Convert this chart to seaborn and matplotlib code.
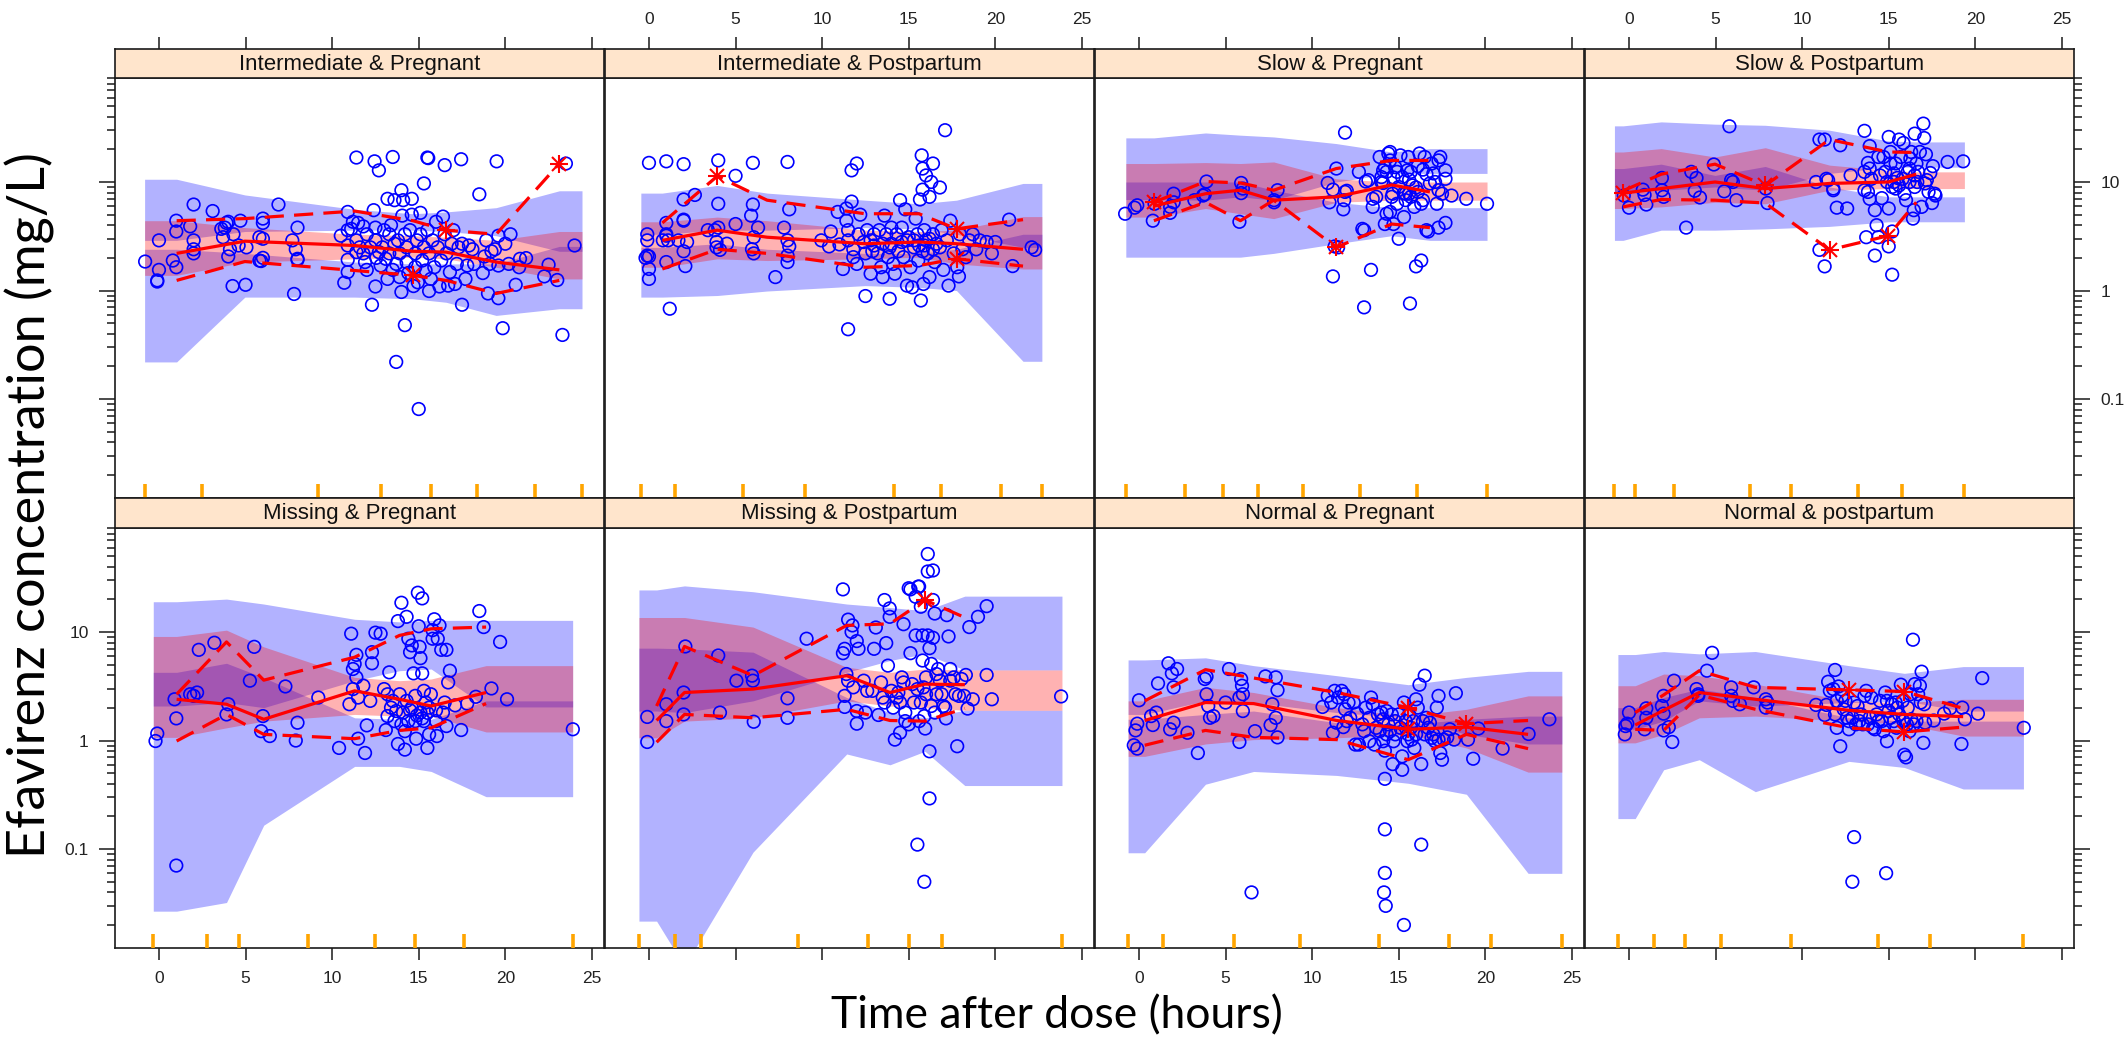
import matplotlib
matplotlib.use("Agg")
import matplotlib.pyplot as plt
import matplotlib.transforms as mtrans
from matplotlib.ticker import FixedLocator, NullFormatter, FuncFormatter
import seaborn as sns

sns.set_theme(style="white")
plt.rcParams['font.family'] = ['Liberation Sans', 'DejaVu Sans']

# ---------------- panel titles ----------------
titles = ["Intermediate & Pregnant", "Intermediate & Postpartum", "Slow & Pregnant", "Slow & Postpartum",
          "Missing & Pregnant", "Missing & Postpartum", "Normal & Pregnant", "Normal & postpartum"]
x_ticks = [0, 5, 10, 15, 20, 25]
y_ticks = [0.1, 1, 10]

# ---------------- Panel 1: Intermediate & Pregnant ----------------
edges_p1 = [-0.83, 2.48, 9.2, 12.85, 15.71, 18.36, 21.7, 24.43]
nodes_p1 = [1.02, 4.96, 11.3, 14.66, 16.58, 19.47, 23.12]
ci95_hi_p1 = [10.6, 7.6, 5.6, 5.1, 5.3, 5.8, 8.3]
ci95_lo_p1 = [2.9, 3.5, 3.6, 3.6, 3.5, 3.2, 2.3]
ci50_hi_p1 = [4.4, 3.8, 3.3, 3.2, 3.1, 2.9, 3.5]
ci50_lo_p1 = [1.38, 1.83, 1.96, 2.03, 1.96, 1.64, 1.28]
ci05_hi_p1 = [2.4, 2.2, 1.83, 1.76, 1.76, 1.76, 2.55]
ci05_lo_p1 = [0.22, 0.87, 0.87, 0.84, 0.78, 0.59, 0.68]
obs95_p1 = [4.4, 4.6, 5.4, 4.4, 3.6, 3.3, 14.8]
obs50_p1 = [2.2, 2.85, 2.6, 2.3, 2.26, 1.83, 1.55]
obs05_p1 = [1.24, 1.85, 1.53, 1.38, 1.24, 0.94, 1.24]
stars_p1 = [("p05", 3), ("p95", 4), ("p95", 6)]
pts_p1 = [(-0.8,1.85),(-0.1,1.24),(-0.1,1.21),(0.0,1.55),(0.0,2.9),(0.8,1.89),(1.0,1.64),(1.0,3.5),(1.0,4.4),
    (1.8,3.9),(2.0,6.2),(2.0,2.9),(2.0,2.4),(2.0,2.2),(3.1,5.4),(3.6,3.7),(3.7,3.1),(3.8,3.8),(3.9,4.2),(4.0,4.3),
    (4.0,2.06),(4.1,2.4),(4.3,3.3),(4.25,1.10),(4.6,2.6),(4.7,4.4),(5.0,1.13),(5.05,2.5),(5.8,3.1),(5.8,1.89),
    (5.9,1.87),(6.0,4.6),(6.0,4.2),(6.0,3.0),(6.0,2.0),(6.9,6.2),(7.7,2.9),(7.8,0.93),(7.9,2.4),(8.0,3.8),(8.0,1.96),
    (8.0,1.92),(10.5,3.2),(10.7,1.18),(10.9,5.3),(10.9,3.6),(10.9,2.6),(10.9,1.92),(10.9,1.48),(11.1,3.7),(11.2,4.3),
    (11.4,2.9),(11.4,2.26),(11.5,4.2),(11.6,2.5),(11.8,2.2),(11.8,3.9),(11.9,1.83),(12.0,3.3),(12.0,1.55),(12.2,2.5),
    (12.3,0.74),(12.4,5.5),(12.5,3.8),(12.5,2.9),(12.5,1.09),(12.55,2.0),(12.7,2.26),(12.8,1.70),(12.9,2.5),(13.0,3.6),
    (13.1,1.96),(13.2,1.28),(13.2,7.0),(13.3,3.3),(13.3,2.2),(13.4,4.0),(13.5,1.55),(13.6,6.8),(13.6,2.7),(13.7,0.22),
    (13.7,1.76),(13.8,2.9),(13.9,2.2),(13.9,1.33),(14.0,0.97),(14.0,8.4),(14.05,4.9),(14.1,6.8),(14.2,0.48),(14.2,3.3),
    (14.3,2.5),(14.3,1.83),(14.4,1.45),(14.5,3.6),(14.6,5.0),(14.6,7.0),(14.7,1.10),(14.8,2.2),(14.8,1.64),(14.9,2.9),
    (14.95,1.19),(15.0,0.081),(15.1,5.2),(15.1,3.3),(15.2,1.89),(15.3,9.7),(15.3,2.5),(15.4,1.53),(15.5,16.8),(15.55,16.6),
    (15.5,3.6),(15.6,2.2),(15.6,0.99),(15.7,1.28),(15.8,2.9),(15.9,1.64),(16.0,4.3),(16.1,2.5),(16.2,1.09),(16.3,1.89),
    (16.4,4.8),(16.5,14.3),(16.5,3.3),(16.6,2.2),(16.7,1.11),(16.8,1.48),(16.9,2.7),(17.0,3.6),(17.1,1.15),(17.2,1.76),
    (17.3,2.5),(17.45,16.2),(17.5,0.74),(17.5,2.7),(17.7,1.28),(17.8,1.70),(17.9,2.6),(18.1,2.4),(18.2,1.76),(18.5,7.7),
    (18.7,1.45),(18.8,2.06),(18.9,2.9),(19.0,0.94),(19.1,1.76),(19.2,2.3),(19.4,2.4),(19.5,15.5),(19.6,0.85),(19.6,3.2),
    (19.6,1.70),(19.85,0.45),(20.0,2.7),(20.2,1.76),(20.3,3.3),(20.6,1.13),(20.8,1.64),(20.85,1.96),(21.2,1.99),
    (22.25,1.35),(22.5,1.73),(23.0,1.25),(23.3,0.39),(23.5,14.8),(24.0,2.6),(11.4,16.8),(12.45,15.5),(12.7,12.8),(13.5,17.0)]

# ---------------- Panel 2: Intermediate & Postpartum ----------------
edges_p2 = [-0.47, 1.48, 5.42, 9.02, 14.16, 16.85, 20.33, 22.69]
nodes_p2 = [0.77, 3.94, 6.82, 12.48, 15.59, 17.76, 21.6]
ci95_hi_p2 = [7.9, 9.3, 7.9, 6.8, 6.3, 6.8, 9.7]
ci95_lo_p2 = [3.3, 3.6, 3.6, 3.8, 3.7, 3.3, 2.5]
ci50_hi_p2 = [4.3, 4.75, 4.4, 3.6, 3.5, 3.6, 4.8]
ci50_lo_p2 = [1.64, 1.96, 1.89, 1.96, 2.03, 1.76, 1.58]
ci05_hi_p2 = [2.5, 2.7, 2.4, 2.2, 2.2, 2.4, 3.3]
ci05_lo_p2 = [0.87, 0.90, 0.99, 1.11, 1.07, 1.0, 0.223]
obs95_p2 = [4.2, 11.3, 6.8, 5.1, 5.1, 3.7, 4.5]
obs50_p2 = [2.9, 3.6, 3.1, 2.7, 2.8, 2.7, 2.4]
obs05_p2 = [1.58, 2.4, 2.2, 1.64, 1.70, 1.96, 1.68]
stars_p2 = [("p95", 1), ("p95", 5), ("p05", 5)]
pts_p2 = [(0.0,15.0),(1.0,15.5),(2.0,14.6),(4.0,15.8),(6.0,15.0),(8.0,15.3),(5.0,11.4),(2.65,7.6),(2.0,6.9),(4.0,6.3),
    (6.0,6.2),(5.9,4.9),(2.0,4.5),(2.0,4.4),(1.0,4.2),(1.0,3.3),(1.0,3.2),(0.8,2.9),(1.1,2.9),(1.7,2.9),(2.2,2.8),
    (2.0,2.3),(-0.1,3.3),(-0.1,2.9),(-0.1,2.1),(0.0,2.06),(-0.2,2.0),(0.0,1.58),(0.0,1.28),(1.0,1.83),(2.1,1.68),
    (1.2,0.68),(3.4,3.6),(3.8,3.6),(4.0,3.8),(3.9,2.8),(3.9,2.5),(4.1,2.37),(4.5,2.7),(5.0,4.1),(6.05,3.1),(5.95,2.4),
    (6.05,2.2),(6.3,3.8),(7.3,1.33),(7.8,3.8),(8.0,2.9),(8.1,2.55),(8.0,2.1),(8.0,1.83),(8.1,5.6),
    (9.95,2.9),(10.4,2.55),(10.5,3.5),(10.9,5.3),(11.0,2.66),(11.2,1.58),(11.4,5.7),(11.4,4.4),(11.5,3.6),(11.5,2.9),
    (11.7,6.6),(11.7,12.8),(12.0,14.8),(11.8,2.4),(11.8,2.03),(12.0,1.76),(12.1,3.3),(12.2,5.0),(12.4,2.8),(12.5,2.2),
    (12.5,0.89),(12.6,3.6),(12.8,1.43),(12.8,2.9),(12.9,2.3),(13.0,3.3),(13.2,2.2),(13.3,3.6),(13.4,1.64),(13.5,1.33),
    (13.5,2.7),(13.6,4.9),(13.7,3.3),(13.8,2.03),(13.9,0.84),(13.9,2.5),(14.0,3.8),(14.1,1.76),(14.2,1.43),(14.3,3.3),
    (14.4,2.3),(14.5,6.8),(14.6,3.8),(14.7,2.03),(14.8,5.6),(14.9,2.9),(14.9,1.11),(15.1,1.64),(15.2,1.07),(15.3,2.5),
    (15.4,4.6),(15.5,3.3),(15.55,1.89),(15.65,6.9),(15.7,0.81),(15.75,17.6),(15.8,13.3),(15.8,8.5),(15.85,1.15),
    (15.9,2.6),(15.9,3.6),(16.0,11.5),(16.1,2.2),(16.2,7.3),(16.2,1.33),(16.3,10.0),(16.4,14.8),(16.4,3.3),(16.5,1.83),
    (16.8,8.9),(16.8,2.5),(16.9,3.6),(17.0,1.55),(17.1,30.0),(17.2,2.9),(17.3,1.11),(17.4,4.4),(17.6,2.2),(17.8,1.64),
    (17.9,1.35),(17.95,3.3),(18.1,2.4),(18.3,2.03),(18.5,2.9),(18.7,3.3),(18.9,2.4),(19.1,2.9),(19.5,2.8),(19.8,2.2),
    (20.0,2.8),(20.8,4.5),(21.0,1.68),(22.1,2.5),(22.3,2.37),(11.5,0.44),(14.6,2.8),(15.0,3.1),(15.3,2.9),(15.6,2.6),
    (16.0,2.9),(16.2,3.0),(16.6,2.7),(13.0,2.6),(14.0,2.7),(15.8,2.3),(16.4,2.4)]

# ---------------- Panel 3: Slow & Pregnant ----------------
edges_p3 = [-0.76, 2.66, 4.86, 6.88, 9.45, 12.76, 16.07, 20.1]
nodes_p3 = [0.86, 3.84, 5.86, 7.78, 11.39, 14.59, 16.8]
ci95_hi_p3 = [25.5, 28.3, 27.0, 26.0, 22.6, 18.9, 20.3]
ci95_lo_p3 = [6.9, 6.8, 7.3, 6.8, 10.0, 12.0, 12.0]
ci50_hi_p3 = [14.8, 15.1, 14.8, 15.3, 10.7, 10.0, 10.0]
ci50_lo_p3 = [4.75, 5.7, 5.1, 4.6, 6.5, 6.8, 6.8]
ci05_hi_p3 = [10.0, 10.0, 10.0, 8.4, 6.5, 5.8, 5.8]
ci05_lo_p3 = [2.03, 2.03, 2.03, 2.2, 2.7, 3.2, 2.9]
obs95_p3 = [6.5, 10.1, 9.8, 8.4, 13.3, 15.8, 15.8]
obs50_p3 = [6.0, 7.8, 8.4, 6.8, 7.3, 9.4, 8.1]
obs05_p3 = [4.4, 6.5, 4.4, 6.8, 2.5, 4.1, 3.8]
stars_p3 = [("p95", 0), ("p05", 4)]
pts_p3 = [(-0.8,5.1),(-0.25,5.8),(-0.1,6.1),(0.8,4.4),(0.9,6.3),(1.8,5.2),(1.8,5.9),(2.0,7.8),(2.0,6.5),(3.2,6.8),
    (3.7,7.5),(3.8,7.7),(3.9,10.1),(5.8,4.3),(5.9,9.8),(5.9,7.9),(6.0,8.7),(7.8,6.8),(7.8,6.5),(8.0,8.4),
    (10.9,9.8),(11.0,6.5),(11.2,8.5),(11.2,1.35),(11.3,2.55),(11.4,13.3),(11.5,2.5),(11.8,5.6),(11.9,8.1),(12.0,8.3),
    (11.85,6.8),(11.9,28.5),(12.7,12.4),(12.9,3.7),(13.0,3.6),(13.0,0.70),(13.1,10.1),(13.25,10.4),(13.4,1.55),
    (13.5,5.9),(13.5,7.0),(13.7,7.3),(13.9,17.0),(14.0,11.1),(14.1,12.8),(14.1,9.8),(14.2,4.1),(14.2,13.7),(14.3,5.1),
    (14.3,12.4),(14.4,18.3),(14.5,5.3),(14.5,18.9),(14.5,15.8),(14.6,7.3),(14.65,7.8),(14.7,4.1),(14.8,13.7),(14.9,6.3),
    (14.9,12.4),(15.0,3.0),(15.1,17.6),(15.2,11.1),(15.3,4.75),(15.3,7.9),(15.4,6.8),(15.4,7.8),(15.5,12.8),(15.55,17.0),
    (15.6,7.8),(15.65,0.76),(15.7,12.4),(15.7,7.3),(15.8,9.3),(15.9,5.9),(16.0,1.67),(16.1,14.0),(16.1,8.1),(16.2,18.3),
    (16.3,1.89),(16.3,6.3),(16.4,13.0),(16.4,6.8),(16.5,17.0),(16.6,3.6),(16.7,3.5),(16.8,9.7),(16.9,14.8),(17.0,12.0),
    (17.1,10.0),(17.2,6.3),(17.3,8.4),(17.3,15.8),(17.4,17.0),(17.5,7.8),(17.7,12.8),(17.7,4.2),(17.3,3.8),(17.7,10.7),
    (18.05,7.5),(18.9,7.0),(20.1,6.3),(14.0,10.0),(14.7,11.0),(15.0,9.0),(15.6,10.5),(16.0,8.9),(16.6,11.8)]

# ---------------- Panel 4: Slow & Postpartum ----------------
edges_p4 = [-0.84, 0.37, 2.58, 6.99, 9.37, 13.2, 15.77, 19.37]
nodes_p4 = [-0.34, 1.86, 4.97, 7.87, 11.58, 14.98, 16.59]
ci95_hi_p4 = [32.9, 35.8, 34.1, 33.3, 30.0, 23.9, 23.4]
ci95_lo_p4 = [8.1, 8.4, 9.0, 8.4, 12.0, 13.7, 13.7]
ci50_hi_p4 = [18.9, 20.3, 17.0, 20.7, 14.3, 12.8, 12.4]
ci50_lo_p4 = [5.7, 5.9, 6.5, 6.3, 8.4, 8.7, 8.7]
ci05_hi_p4 = [13.3, 14.6, 11.5, 13.9, 9.0, 7.3, 7.3]
ci05_lo_p4 = [2.9, 3.6, 3.6, 3.7, 3.9, 4.3, 4.3]
obs95_p4 = [8.3, 11.8, 14.6, 9.3, 24.6, 18.9, 18.7]
obs50_p4 = [7.9, 8.7, 10.0, 8.7, 9.7, 10.0, 11.8]
obs05_p4 = [5.9, 6.9, 6.8, 6.4, 2.37, 3.2, 6.5]
stars_p4 = [("p50", 0), ("p95", 3), ("p05", 4), ("p05", 5)]
pts_p4 = [(-0.3,7.5),(0.0,5.8),(0.8,8.5),(0.9,7.6),(1.0,6.2),(1.9,10.9),(1.9,8.4),(2.0,7.3),(3.3,3.8),(3.6,12.4),
    (3.9,10.9),(3.8,8.3),(4.1,7.2),(4.9,14.5),(5.5,8.2),(5.8,32.6),(5.9,10.4),(6.0,10.0),(6.2,6.8),(7.9,8.7),(8.0,6.4),
    (10.8,10.0),(11.0,2.37),(11.0,24.6),(11.3,24.6),(11.3,1.67),(11.4,10.7),(11.5,10.4),(11.8,8.7),(11.8,8.4),
    (12.0,5.8),(12.2,21.8),(12.6,5.7),(12.8,11.5),(13.6,29.6),(13.6,12.4),(13.6,8.4),(13.7,3.1),(13.8,8.1),(13.8,15.0),
    (13.9,13.3),(13.9,7.0),(13.9,21.4),(14.0,10.7),(14.2,5.5),(14.2,2.1),(14.3,4.0),(14.4,17.0),(14.4,3.1),(14.5,11.5),
    (14.6,7.1),(14.7,17.0),(14.8,12.4),(14.9,10.0),(15.0,26.0),(15.0,5.7),(15.0,2.55),(15.1,18.9),(15.1,14.8),(15.2,9.0),
    (15.2,1.4),(15.2,3.5),(15.3,12.0),(15.3,10.0),(15.4,8.7),(15.4,14.8),(15.5,10.9),(15.6,24.6),(15.6,9.3),(15.7,17.0),
    (15.85,22.9),(15.9,7.8),(16.0,6.8),(16.1,12.4),(16.2,10.0),(16.25,16.4),(16.3,18.9),(16.4,4.6),(16.45,5.5),
    (16.5,27.9),(16.5,11.5),(16.6,14.8),(16.65,10.0),(16.7,12.4),(16.8,18.9),(16.9,5.9),(17.0,34.5),(17.05,25.4),
    (17.1,9.7),(17.15,18.0),(17.2,10.4),(17.3,8.1),(17.4,12.1),(17.5,6.4),(17.55,14.0),(17.65,7.8),(17.7,7.5),
    (18.4,15.3),(19.3,15.5),(16.2,13.3),(15.8,10.7),(16.5,9.0)]

# ---------------- Panel 5: Missing & Pregnant ----------------
edges_p5 = [-0.33, 2.75, 4.61, 8.61, 12.45, 14.76, 17.64, 23.89]
nodes_p5 = [1.02, 3.9, 6.05, 11.3, 13.89, 15.72, 18.89]
ci95_hi_p5 = [19.0, 20.1, 18.1, 13.1, 12.4, 12.8, 12.8]
ci95_lo_p5 = [2.08, 2.24, 2.01, 3.56, 4.4, 4.56, 2.04]
ci50_hi_p5 = [9.1, 10.4, 7.3, 3.82, 3.56, 3.69, 4.9]
ci50_lo_p5 = [1.07, 1.31, 1.51, 1.74, 1.68, 1.68, 1.2]
ci05_hi_p5 = [4.25, 5.15, 3.8, 1.62, 1.57, 1.57, 2.32]
ci05_lo_p5 = [0.0268, 0.0322, 0.166, 0.578, 0.578, 0.519, 0.304]
obs95_p5 = [2.67, 8.1, 3.6, 5.86, 9.3, 10.7, 11.1]
obs50_p5 = [2.4, 2.16, 1.57, 2.87, 2.4, 2.08, 2.77]
obs05_p5 = [0.99, 1.74, 1.14, 1.04, 1.24, 1.31, 2.19]
stars_p5 = []
pts_p5 = [(-0.2,0.99),(-0.1,1.16),(0.9,2.4),(1.0,1.6),(1.0,0.0705),(1.8,2.67),(2.0,2.58),(2.2,2.77),(2.3,6.85),
    (3.2,7.96),(3.9,1.74),(4.0,2.16),(5.25,3.56),(5.5,7.3),(6.0,1.68),(5.9,1.22),(6.4,1.1),(7.3,3.15),(8.0,1.46),
    (7.9,1.0),(9.2,2.49),(10.4,0.855),(11.0,2.16),(11.1,9.65),(11.2,2.98),(11.2,4.56),(11.3,5.08),(11.4,3.82),
    (11.4,6.16),(11.5,2.49),(11.5,1.04),(11.8,3.2),(11.9,0.768),(12.0,1.38),(12.2,2.32),(12.3,6.52),(12.3,5.15),
    (12.5,9.86),(12.8,9.65),(13.0,2.98),(13.1,1.25),(13.2,2.67),(13.2,1.68),(13.3,4.25),(13.4,2.01),(13.5,2.32),
    (13.6,1.51),(13.7,1.87),(13.8,12.6),(13.8,0.93),(13.9,2.67),(14.0,1.41),(14.0,18.6),(14.1,1.81),(14.2,1.22),
    (14.2,0.825),(14.3,2.32),(14.3,13.8),(14.4,1.51),(14.4,8.67),(14.5,6.52),(14.6,7.52),(14.6,2.01),(14.7,4.16),
    (14.8,1.51),(14.8,2.58),(14.85,1.04),(14.95,23.0),(15.0,11.3),(15.05,7.3),(15.1,5.74),(15.1,1.81),(15.2,20.4),
    (15.2,4.16),(15.3,2.87),(15.3,1.51),(15.4,2.24),(15.5,0.855),(15.6,1.14),(15.6,2.01),(15.7,2.67),(15.8,10.4),
    (15.8,8.67),(15.9,13.1),(16.0,1.51),(16.05,1.1),(16.1,8.67),(16.2,11.5),(16.3,6.85),(16.4,1.81),(16.5,2.24),
    (16.6,1.36),(16.6,6.85),(16.7,3.43),(16.8,4.4),(17.1,2.11),(17.45,1.25),(17.8,2.19),(18.3,2.53),(18.5,15.6),
    (18.75,11.1),(19.2,3.02),(19.7,8.1),(20.1,2.4),(23.9,1.27),(14.5,1.9),(14.9,1.7),(15.2,1.6),(15.5,1.8),(16.0,1.9)]

# ---------------- Panel 6: Missing & Postpartum ----------------
edges_p6 = [-0.58, 1.50, 3.03, 8.58, 12.63, 15.02, 16.95, 23.85]
nodes_p6 = [0.44, 2.05, 6.01, 11.42, 13.92, 15.94, 18.24]
ci95_hi_p6 = [24.4, 26.6, 23.5, 18.1, 16.8, 15.7, 21.4]
ci95_lo_p6 = [1.87, 1.81, 2.32, 4.25, 5.46, 6.3, 4.47]
ci50_hi_p6 = [13.6, 13.6, 11.1, 4.73, 4.25, 4.56, 4.47]
ci50_lo_p6 = [1.06, 1.51, 1.62, 2.32, 2.08, 2.01, 1.9]
ci05_hi_p6 = [7.1, 7.0, 6.52, 2.49, 1.81, 1.62, 1.9]
ci05_lo_p6 = [0.0217, 0.0083, 0.0938, 0.752, 0.598, 0.796, 0.385]
obs95_p6 = [2.08, 7.36, 3.96, 11.5, 11.9, 19.7, 13.6]
obs50_p6 = [1.53, 2.77, 2.98, 3.96, 2.77, 3.31, 3.27]
obs05_p6 = [0.965, 1.74, 1.62, 1.94, 1.53, 1.51, 1.98]
stars_p6 = [("p95", 5)]
pts_p6 = [(-0.1,1.65),(-0.1,0.97),(1.0,2.16),(1.0,1.51),(2.0,2.77),(2.0,1.74),(2.1,7.36),(4.0,6.07),(4.1,1.81),
    (5.05,3.56),(5.95,3.96),(6.0,3.56),(6.05,1.49),(8.0,2.45),(8.0,1.62),(9.1,8.67),(11.2,24.7),(11.2,6.38),(11.3,7.0),
    (11.3,2.58),(11.3,2.04),(11.4,4.1),(11.5,13.0),(11.5,3.56),(11.7,10.0),(11.75,11.5),(11.8,3.09),(12.0,1.43),
    (12.0,1.87),(12.0,8.25),(12.1,7.0),(12.4,3.56),(12.5,1.81),(12.6,2.87),(12.9,2.87),(13.0,7.0),(13.1,11.0),
    (13.25,1.72),(13.4,3.43),(13.5,2.49),(13.6,2.24),(13.6,19.7),(13.7,7.9),(13.8,4.9),(13.9,16.5),(13.9,13.8),
    (14.0,2.87),(14.1,2.01),(14.2,1.02),(14.3,2.49),(14.4,2.77),(14.5,2.24),(14.5,1.18),(14.6,3.82),(14.7,3.43),
    (14.7,11.8),(14.8,1.51),(14.8,1.81),(15.0,1.41),(15.0,25.3),(15.1,6.38),(15.2,3.31),(15.3,2.24),(15.4,9.3),
    (15.4,21.1),(15.5,2.98),(15.5,0.110),(15.55,26.2),(15.6,1.51),(15.7,2.24),(15.7,17.1),(15.8,9.3),(15.8,5.46),
    (15.85,3.09),(15.9,1.68),(15.9,0.05),(15.95,1.29),(16.0,3.82),(16.0,2.67),(16.1,9.3),(16.2,7.1),(16.2,0.796),
    (16.2,0.293),(16.3,5.08),(16.3,2.08),(16.4,19.7),(16.4,8.85),(16.5,14.8),(16.5,1.81),(16.6,4.1),(16.6,2.67),
    (16.7,4.56),(16.8,3.56),(16.9,2.67),(17.0,2.08),(17.1,2.01),(17.15,1.6),(17.2,14.3),(17.3,9.1),(17.4,4.56),
    (17.4,3.56),(17.6,3.82),(17.7,2.67),(17.8,0.886),(17.9,2.58),(18.05,3.69),(18.2,2.58),(18.3,4.02),(18.4,1.97),
    (18.5,11.1),(18.7,2.4),(19.0,13.8),(19.5,17.3),(19.5,4.02),(19.8,2.4),(23.8,2.55),(16.1,52.3),(16.1,36.1),
    (16.4,36.9),(15.1,24.7),(15.6,26.2)]

# ---------------- Panel 7: Normal & Pregnant ----------------
edges_p7 = [-0.63, 1.40, 5.47, 9.27, 13.86, 17.9, 20.35, 24.42]
nodes_p7 = [0.33, 3.84, 6.62, 11.42, 15.55, 18.91, 22.47]
ci95_hi_p7 = [5.53, 5.78, 4.9, 3.96, 3.27, 3.82, 4.34]
ci95_lo_p7 = [1.74, 2.32, 2.24, 1.81, 1.62, 1.14, 0.93]
ci50_hi_p7 = [2.32, 3.09, 2.77, 2.01, 1.68, 1.94, 2.58]
ci50_lo_p7 = [0.715, 0.93, 1.02, 1.06, 1.14, 0.855, 0.512]
ci05_hi_p7 = [1.57, 1.74, 1.87, 1.46, 1.41, 1.57, 1.68]
ci05_lo_p7 = [0.0925, 0.396, 0.519, 0.477, 0.404, 0.32, 0.0598]
obs95_p7 = [2.32, 4.5, 3.77, 2.77, 2.01, 1.43, 1.53]
obs50_p7 = [1.53, 2.24, 2.19, 1.53, 1.27, 1.33, 1.14]
obs05_p7 = [0.905, 1.24, 1.07, 1.02, 0.666, 1.14, 0.843]
stars_p7 = [("p95", 4), ("p50", 4), ("p95", 5)]
pts_p7 = [(-0.3,0.905),(-0.1,0.843),(-0.2,1.24),(-0.1,1.43),(0.0,2.35),(0.7,1.68),(0.8,1.39),(1.0,1.81),(1.1,3.36),
    (1.7,5.15),(1.8,1.27),(1.9,4.16),(2.0,3.09),(2.0,1.46),(2.2,4.56),(2.8,1.18),(3.4,0.768),(3.8,3.69),(3.9,3.88),
    (3.9,2.67),(4.0,2.08),(4.1,1.62),(4.3,1.68),(5.0,2.24),(5.2,4.56),(5.8,0.97),(5.8,2.49),(5.9,3.69),(5.95,3.2),
    (6.0,2.67),(6.0,1.87),(6.5,0.0399),(6.7,1.22),(7.3,3.9),(7.6,1.39),(7.7,2.16),(7.9,1.62),(7.9,3.82),(8.0,2.91),
    (8.0,1.07),(10.6,2.04),(10.9,2.58),(11.1,2.24),(11.2,1.18),(11.3,2.87),(11.4,1.46),(11.5,2.49),(11.7,2.87),
    (11.8,1.33),(11.85,2.67),(11.9,1.94),(12.0,1.51),(12.1,2.24),(12.2,1.62),(12.4,2.24),(12.5,0.918),(12.6,1.77),
    (12.7,0.918),(12.9,1.41),(13.0,1.22),(13.1,2.01),(13.3,0.986),(13.3,1.62),(13.4,2.49),(13.5,2.16),(13.6,0.918),
    (13.7,1.31),(13.8,1.74),(13.9,1.22),(14.0,1.81),(14.1,0.986),(14.1,1.57),(14.2,0.807),(14.2,0.444),(14.2,0.152),
    (14.2,0.0603),(14.15,0.0399),(14.25,0.030),(14.3,1.14),(14.3,1.87),(14.4,1.41),(14.5,1.22),(14.6,1.74),
    (14.65,0.607),(14.7,0.986),(14.8,1.51),(14.8,1.14),(15.0,1.74),(15.1,1.31),(15.2,0.715),(15.2,0.538),(15.3,0.02),
    (15.3,2.24),(15.4,1.51),(15.5,0.986),(15.55,1.14),(15.6,1.74),(15.7,1.31),(15.75,1.02),(15.85,1.51),(15.9,0.855),
    (16.0,1.14),(16.0,2.4),(16.1,2.01),(16.2,3.27),(16.3,0.11),(16.3,0.607),(16.4,1.51),(16.5,3.96),(16.5,1.14),
    (16.6,1.62),(16.7,1.31),(16.8,1.46),(16.9,1.06),(17.0,1.14),(17.1,0.986),(17.2,2.01),(17.3,1.02),(17.3,2.58),
    (17.4,0.768),(17.5,0.666),(17.6,1.02),(17.8,1.07),(17.95,1.27),(18.2,1.02),(18.3,2.73),(19.0,1.02),(19.3,0.68),
    (19.6,1.29),(21.0,0.843),(22.5,1.15),(23.7,1.57)]

# ---------------- Panel 8: Normal & postpartum ----------------
edges_p8 = [-0.64, 1.46, 3.21, 5.31, 9.38, 14.40, 17.39, 22.78]
nodes_p8 = [0.36, 2.0, 4.06, 7.3, 12.7, 15.9, 19.3]
ci95_hi_p8 = [6.2, 6.61, 6.29, 6.61, 4.9, 4.16, 4.8]
ci95_lo_p8 = [1.27, 1.51, 2.32, 2.08, 2.24, 2.32, 1.87]
ci50_hi_p8 = [3.2, 4.1, 3.96, 3.31, 2.32, 2.24, 2.4]
ci50_lo_p8 = [0.952, 1.14, 1.62, 1.68, 1.51, 1.41, 1.1]
ci05_hi_p8 = [2.01, 2.49, 2.98, 2.49, 1.62, 1.51, 1.51]
ci05_lo_p8 = [0.191, 0.538, 0.666, 0.338, 0.643, 0.565, 0.358]
obs95_p8 = [1.81, 2.63, 4.4, 3.09, 2.93, 2.83, 1.98]
obs50_p8 = [1.39, 1.9, 2.77, 2.4, 1.9, 1.74, 1.66]
obs05_p8 = [1.27, 1.24, 2.63, 1.94, 1.31, 1.2, 1.33]
stars_p8 = [("p95", 4), ("p95", 5), ("p05", 5)]
pts_p8 = [(-0.24,1.14),(-0.2,1.36),(-0.1,1.43),(0.0,1.81),(0.9,1.27),(1.0,1.98),(1.0,1.62),(1.9,2.08),(2.0,2.58),
    (2.0,1.77),(2.0,1.24),(2.3,1.33),(2.5,0.97),(2.6,3.56),(3.9,2.98),(4.0,2.67),(4.0,2.58),(4.5,4.4),(4.8,6.43),
    (5.9,3.09),(5.9,2.58),(6.0,2.32),(6.4,2.16),(7.2,3.09),(7.9,2.4),(7.9,2.01),(8.0,2.24),
    (10.8,2.13),(11.3,1.72),(11.4,2.13),(11.5,3.48),(11.6,2.87),(11.8,2.98),(11.9,1.74),(11.9,4.47),(12.0,2.32),
    (12.0,1.31),(12.1,3.15),(12.2,0.886),(12.3,2.58),(12.4,1.94),(12.5,2.32),(12.6,1.62),(12.7,1.27),(12.7,1.51),
    (12.9,1.62),(13.0,2.24),(13.0,0.129),(12.9,0.05),(13.1,1.41),(13.2,2.08),(13.3,1.51),(13.4,1.74),(13.5,1.41),
    (13.6,2.58),(13.7,2.87),(13.8,1.41),(13.9,1.62),(14.0,2.49),(14.1,1.31),(14.2,1.27),(14.3,1.74),(14.4,1.51),
    (14.5,2.32),(14.6,1.51),(14.7,1.22),(14.8,2.77),(14.85,0.06),(14.9,0.986),(14.9,2.32),(15.0,1.87),(15.1,1.62),
    (15.2,2.16),(15.3,1.51),(15.4,2.24),(15.45,1.31),(15.5,2.01),(15.6,1.74),(15.7,3.27),(15.8,2.32),(15.85,1.51),
    (15.9,0.74),(16.0,0.70),(16.05,1.41),(16.1,2.01),(16.2,1.22),(16.25,2.67),(16.3,1.57),(16.4,8.49),(16.45,1.41),
    (16.5,3.31),(16.6,1.51),(16.7,2.67),(16.8,3.2),(16.85,2.24),(16.9,4.31),(17.0,0.952),(17.05,2.16),(17.1,1.46),
    (17.6,1.53),(18.2,1.77),(18.55,1.98),(19.2,0.93),(19.25,2.01),(19.4,1.57),(20.15,1.77),(20.4,3.76),(22.8,1.31)]

panels = [
    (edges_p1, nodes_p1, ci95_lo_p1, ci95_hi_p1, ci50_lo_p1, ci50_hi_p1, ci05_lo_p1, ci05_hi_p1, obs95_p1, obs50_p1, obs05_p1, stars_p1, pts_p1),
    (edges_p2, nodes_p2, ci95_lo_p2, ci95_hi_p2, ci50_lo_p2, ci50_hi_p2, ci05_lo_p2, ci05_hi_p2, obs95_p2, obs50_p2, obs05_p2, stars_p2, pts_p2),
    (edges_p3, nodes_p3, ci95_lo_p3, ci95_hi_p3, ci50_lo_p3, ci50_hi_p3, ci05_lo_p3, ci05_hi_p3, obs95_p3, obs50_p3, obs05_p3, stars_p3, pts_p3),
    (edges_p4, nodes_p4, ci95_lo_p4, ci95_hi_p4, ci50_lo_p4, ci50_hi_p4, ci05_lo_p4, ci05_hi_p4, obs95_p4, obs50_p4, obs05_p4, stars_p4, pts_p4),
    (edges_p5, nodes_p5, ci95_lo_p5, ci95_hi_p5, ci50_lo_p5, ci50_hi_p5, ci05_lo_p5, ci05_hi_p5, obs95_p5, obs50_p5, obs05_p5, stars_p5, pts_p5),
    (edges_p6, nodes_p6, ci95_lo_p6, ci95_hi_p6, ci50_lo_p6, ci50_hi_p6, ci05_lo_p6, ci05_hi_p6, obs95_p6, obs50_p6, obs05_p6, stars_p6, pts_p6),
    (edges_p7, nodes_p7, ci95_lo_p7, ci95_hi_p7, ci50_lo_p7, ci50_hi_p7, ci05_lo_p7, ci05_hi_p7, obs95_p7, obs50_p7, obs05_p7, stars_p7, pts_p7),
    (edges_p8, nodes_p8, ci95_lo_p8, ci95_hi_p8, ci50_lo_p8, ci50_hi_p8, ci05_lo_p8, ci05_hi_p8, obs95_p8, obs50_p8, obs05_p8, stars_p8, pts_p8),
]

# ---------------- layout ----------------
W, H = 2125, 1045
fig = plt.figure(figsize=(W / 100, H / 100), dpi=100)
col_left = [115, 605, 1095, 1585]
pw = 489
rows = [dict(strip=(49, 78), plot=(78, 498)), dict(strip=(498, 528), plot=(528, 948))]


def frac(x0, y0, x1, y1):
    return [x0 / W, 1 - y1 / H, (x1 - x0) / W, (y1 - y0) / H]


def ext(v):
    return [v[0]] + list(v) + [v[-1]]


BORDER = "#1a1a1a"
minor_locs = [k * 10.0 ** e for e in range(-2, 2) for k in range(2, 10)]

for i, (edges, nodes, c95l, c95h, c50l, c50h, c05l, c05h, o95, o50, o05, stars, pts) in enumerate(panels):
    r, c = divmod(i, 4)
    x0 = col_left[c]
    py0, py1 = rows[r]["plot"]
    sy0, sy1 = rows[r]["strip"]
    ax = fig.add_axes(frac(x0, py0, x0 + pw, py1))
    sax = fig.add_axes(frac(x0, sy0, x0 + pw, sy1))

    xs = [edges[0]] + list(nodes) + [edges[-1]]
    ax.fill_between(xs, ext(c95l), ext(c95h), color="blue", alpha=0.3, lw=0, zorder=1)
    ax.fill_between(xs, ext(c05l), ext(c05h), color="blue", alpha=0.3, lw=0, zorder=1)
    ax.fill_between(xs, ext(c50l), ext(c50h), color="red", alpha=0.3, lw=0, zorder=1.5)

    t = [p[0] for p in pts]
    y = [p[1] for p in pts]
    sns.scatterplot(x=t, y=y, ax=ax, s=82, facecolors="none", edgecolor="blue", linewidth=1.2, zorder=3)

    ax.plot(nodes, o50, color="red", lw=2.3, solid_capstyle="butt", zorder=4)
    ax.plot(nodes, o95, color="red", lw=2.3, dashes=(6, 3.2), zorder=4)
    ax.plot(nodes, o05, color="red", lw=2.3, dashes=(6, 3.2), zorder=4)
    lines = {"p95": o95, "p50": o50, "p05": o05}
    for name, k in stars:
        ax.plot(nodes[k], lines[name][k], marker="+", ms=13, mew=1.5, color="red", zorder=5)
        ax.plot(nodes[k], lines[name][k], marker="x", ms=9.5, mew=1.5, color="red", zorder=5)

    tr = mtrans.blended_transform_factory(ax.transData, ax.transAxes)
    ax.vlines(edges, 0, 0.034, transform=tr, colors="#FFA500", lw=2.6, zorder=5)

    ax.set_xlim(-2.54, 25.7)
    ax.set_yscale("log")
    ax.set_ylim(0.01227, 90.8)
    ax.set_xlabel("")
    ax.set_ylabel("")
    ax.set_facecolor("white")
    for sp in ax.spines.values():
        sp.set_color(BORDER)
        sp.set_linewidth(1.2)

    # y axis ticks
    ax.yaxis.set_major_locator(FixedLocator(y_ticks))
    ax.yaxis.set_minor_locator(FixedLocator(minor_locs))
    ax.yaxis.set_major_formatter(FuncFormatter(lambda v, p: f"{v:g}"))
    ax.yaxis.set_minor_formatter(NullFormatter())
    show_left = (c == 0)
    show_right = (c == 3)
    ax.tick_params(axis="y", which="both", direction="out", width=1.1, colors=BORDER,
                   left=show_left, right=show_right,
                   labelleft=(show_left and r == 1), labelright=(show_right and r == 0))
    ax.tick_params(axis="y", which="major", length=11.5, labelsize=12.5, pad=7.5, labelcolor="#222222")
    ax.tick_params(axis="y", which="minor", length=6)

    # x axis ticks
    ax.set_xticks(x_ticks)
    ax.xaxis.set_major_formatter(FuncFormatter(lambda v, p: f"{v:g}"))
    if r == 0:
        ax.tick_params(axis="x", bottom=False, top=False, labelbottom=False, labeltop=False)
    else:
        ax.tick_params(axis="x", bottom=True, top=False, direction="out", length=8.6, width=1.1,
                       colors=BORDER, labelbottom=(c in (0, 2)), labelsize=12.5, pad=8,
                       labelcolor="#222222")

    # strip
    sax.set_facecolor("#FFE5CC")
    sax.set_xlim(-2.54, 25.7)
    sax.set_ylim(0, 1)
    sax.set_yticks([])
    for sp in sax.spines.values():
        sp.set_color(BORDER)
        sp.set_linewidth(1.2)
    if r == 0:
        sax.set_xticks(x_ticks)
        sax.xaxis.set_major_formatter(FuncFormatter(lambda v, p: f"{v:g}"))
        sax.tick_params(axis="x", top=True, bottom=False, labeltop=(c in (1, 3)), labelbottom=False,
                        direction="out", length=8.6, width=1.1, colors=BORDER, labelsize=12.5, pad=7,
                        labelcolor="#222222")
    else:
        sax.set_xticks([])
    sax.text(0.5, 0.48, titles[i], transform=sax.transAxes, ha="center", va="center",
             fontsize=16, color="#111111")

fig.text(1057 / W, 1 - 1016 / H, "Time after dose (hours)", ha="center", va="center",
         fontsize=32, family=["Lato", "DejaVu Sans"], color="black")
fig.text(30 / W, 1 - 505 / H, "Efavirenz concentration (mg/L)", rotation=90, ha="center", va="center",
         fontsize=37.5, family=["Lato", "DejaVu Sans"], color="black")

fig.savefig("out.png", dpi=100)
